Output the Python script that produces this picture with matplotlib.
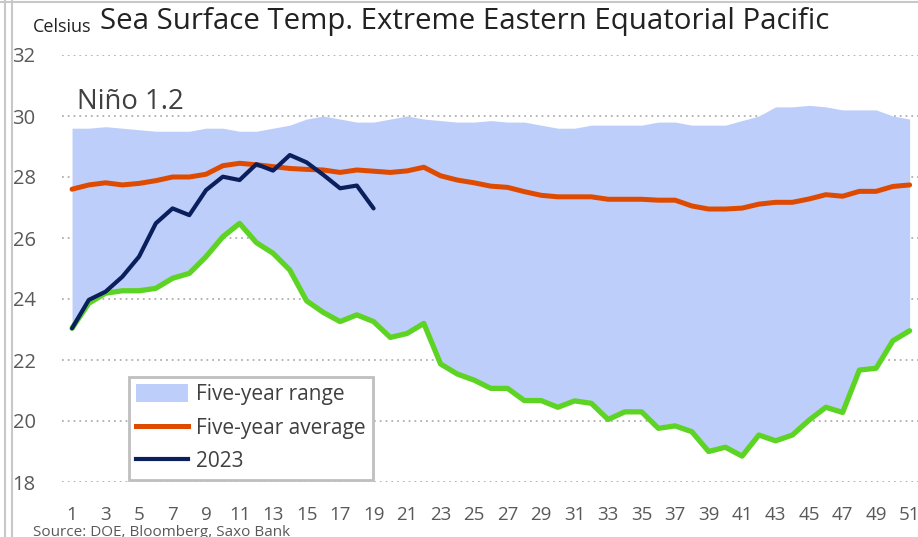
import matplotlib
matplotlib.use("Agg")
import matplotlib.pyplot as plt
from matplotlib.lines import Line2D
from matplotlib.patches import Patch

plt.rcParams['font.family'] = ['Open Sans', 'DejaVu Sans']

weeks = list(range(1, 52))

range_max = [29.6, 29.6, 29.65, 29.6, 29.55, 29.5, 29.5, 29.5, 29.6, 29.6,
             29.5, 29.5, 29.6, 29.7, 29.9, 30.0, 29.9, 29.8, 29.8, 29.9,
             30.0, 29.9, 29.85, 29.8, 29.8, 29.85, 29.8, 29.8, 29.7, 29.6,
             29.6, 29.7, 29.7, 29.7, 29.7, 29.8, 29.8, 29.7, 29.7, 29.7,
             29.85, 30.0, 30.3, 30.3, 30.35, 30.3, 30.2, 30.2, 30.2, 30.0,
             29.9]

range_min = [23.04, 23.86, 24.19, 24.27, 24.27, 24.35, 24.68, 24.84, 25.39, 26.04,
             26.48, 25.85, 25.5, 24.95, 23.94, 23.56, 23.26, 23.48, 23.26, 22.74,
             22.87, 23.2, 21.87, 21.54, 21.34, 21.07, 21.07, 20.67, 20.67, 20.45,
             20.66, 20.58, 20.05, 20.3, 20.3, 19.76, 19.84, 19.65, 19.0, 19.14,
             18.85, 19.54, 19.35, 19.54, 20.03, 20.45, 20.28, 21.67, 21.73, 22.63,
             22.96]

average = [27.6, 27.74, 27.81, 27.74, 27.79, 27.88, 28.0, 28.0, 28.09, 28.37,
           28.45, 28.4, 28.34, 28.28, 28.25, 28.23, 28.15, 28.23, 28.19, 28.15,
           28.2, 28.32, 28.04, 27.9, 27.81, 27.7, 27.66, 27.52, 27.4, 27.35,
           27.35, 27.35, 27.27, 27.27, 27.27, 27.24, 27.24, 27.05, 26.95, 26.95,
           26.98, 27.11, 27.17, 27.17, 27.28, 27.42, 27.37, 27.53, 27.53, 27.69,
           27.74]

weeks_2023 = list(range(1, 20))
temp_2023 = [23.04, 23.97, 24.24, 24.73, 25.39, 26.48, 26.97, 26.75, 27.57, 28.01,
             27.9, 28.42, 28.21, 28.72, 28.48, 28.07, 27.63, 27.72, 26.97]

fill_color = "#BDCEFA"
avg_color = "#DE4B00"
y2023_color = "#0B1F5C"
min_color = "#5DD424"
text_grey = "#595959"

fig = plt.figure(figsize=(9.18, 5.37), dpi=100)
ax = fig.add_axes([62 / 918, 1 - 482 / 537, 1 - 62 / 918, (482 - 55) / 537])

ax.fill_between(weeks, range_min, range_max, color=fill_color, linewidth=0, zorder=2)
ax.plot(weeks, range_min, color=min_color, lw=3.8, solid_capstyle='round', zorder=3)
ax.plot(weeks, average, color=avg_color, lw=3.6, solid_capstyle='round', zorder=4)
ax.plot(weeks_2023, temp_2023, color=y2023_color, lw=3.0, solid_capstyle='round', zorder=5)

ax.set_xlim(0.4, 51.5)
ax.set_ylim(18, 32)
ax.set_yticks(range(18, 33, 2))
ax.set_xticks(range(1, 52, 2))
ax.grid(axis='y', color="#B0B0B0", linestyle=(0, (1.0, 2.2)), linewidth=1.3, zorder=1)
ax.tick_params(length=0, labelsize=14.5, colors=text_grey)
ax.tick_params(axis='y', pad=19)
ax.tick_params(axis='x', pad=17, labelsize=13.5)
for s in ax.spines.values():
    s.set_visible(False)

fig.text(100 / 918, 1 - 22 / 537, "Sea Surface Temp. Extreme Eastern Equatorial Pacific",
         fontsize=21.2, color="#222222", va='center', ha='left')
fig.text(33 / 918, 1 - 27 / 537, "Celsius", fontsize=13, color="#222222", va='center')
fig.text(77 / 918, 1 - 102 / 537, "Niño 1.2", fontsize=19.8, color="#404040", va='center')
fig.text(33 / 918, 1 - 532 / 537, "Source: DOE, Bloomberg, Saxo Bank", fontsize=11,
         color=text_grey, va='center')

handles = [Patch(facecolor=fill_color, edgecolor='none'),
           Line2D([], [], color=avg_color, lw=3.6),
           Line2D([], [], color=y2023_color, lw=3.0)]
leg = ax.legend(handles, ["Five-year range", "Five-year average", "2023"],
                loc='upper left', bbox_to_anchor=((129 - 62) / 856, 1 - (377 - 55) / 427),
                bbox_transform=ax.transAxes, borderaxespad=0, fontsize=15,
                frameon=True, fancybox=False, framealpha=1,
                handlelength=2.5, handleheight=0.9, labelspacing=0.6, borderpad=0.35,
                handletextpad=0.35, labelcolor="#404040")
leg.get_frame().set_edgecolor("#BFBFBF")
leg.get_frame().set_linewidth(2)
leg.set_zorder(6)

# window frame lines of the screenshot
for xpos in (5, 12):
    fig.add_artist(Line2D([xpos / 918] * 2, [0, 1], color="#C8C8C8", lw=1.5))
fig.add_artist(Line2D([0, 1], [1 - 2 / 537] * 2, color="#C8C8C8", lw=1.5))

fig.savefig("out.png", dpi=100)
